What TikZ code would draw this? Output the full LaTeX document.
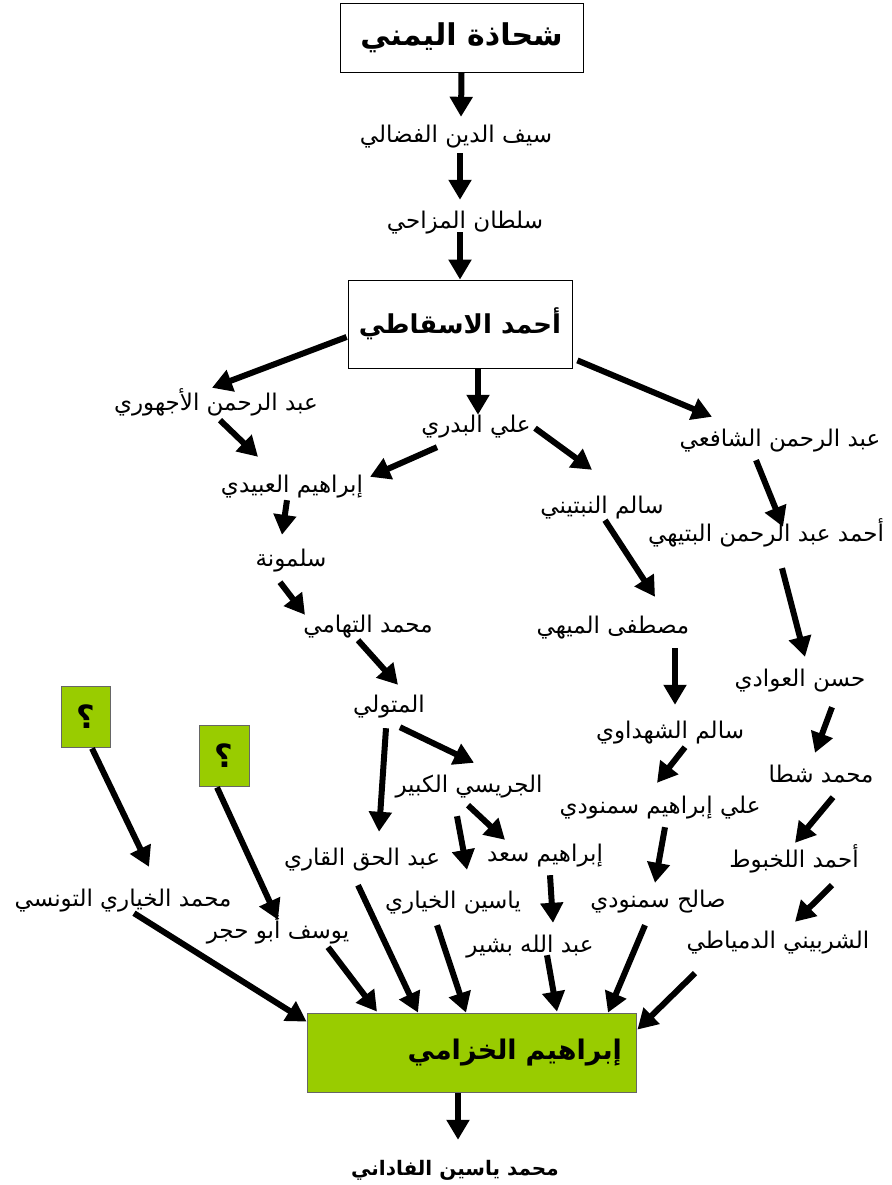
\documentclass[tikz,border=0pt]{standalone}
\usepackage{fontspec}
\newfontfamily\arabicfont[Script=Arabic]{DejaVu Sans}
\TeXXeTstate=1
\usetikzlibrary{arrows.meta}
\definecolor{leafgreen}{RGB}{153,204,0}

\begin{document}
\begin{tikzpicture}[x=1pt,y=-1pt]
\tikzset{
  sheikh/.style={inner sep=1pt,text height=15pt,text depth=5pt,font=\arabicfont\fontsize{23pt}{26pt}\selectfont},
  headbox/.style={draw=black,line width=0.8pt,inner sep=0pt,font=\arabicfont\bfseries\fontsize{30pt}{36pt}\selectfont},
  qbox/.style={draw=black!60,fill=leafgreen,line width=0.8pt,minimum width=49pt,minimum height=61pt,inner sep=0pt,font=\arabicfont\bfseries\fontsize{32pt}{36pt}\selectfont},
  chain/.style={draw=black,line width=6pt,-{Triangle[length=20pt,width=22pt]}}
}
\useasboundingbox[fill=white] (0,0) rectangle (891,1185);

% top of the line
\node[headbox,minimum width=243pt,minimum height=69pt] (yamani) at (461.5,37.5) {\beginR شحاذة اليمني\endR};
\node[sheikh] (fadali) at (456,138) {\beginR سيف الدين الفضالي\endR};
\node[sheikh] (mazahi) at (465,223) {\beginR سلطان المزاحي\endR};
\node[headbox,minimum width=224pt,minimum height=88pt,font=\arabicfont\bfseries\fontsize{26pt}{32pt}\selectfont] (asqati) at (460,324) {\beginR أحمد الاسقاطي\endR};

% students of al-Asqati
\node[sheikh] (ajhuri) at (216,405) {\beginR عبد الرحمن الأجهوري\endR};
\node[sheikh] (badri) at (476,427) {\beginR علي البدري\endR};
\node[sheikh] (shafii) at (780,441) {\beginR عبد الرحمن الشافعي\endR};
\node[sheikh] (ubaydi) at (292,487) {\beginR إبراهيم العبيدي\endR};
\node[sheikh] (nabtini) at (602,508) {\beginR سالم النبتيني\endR};
\node[sheikh] (batihi) at (766,536) {\beginR أحمد عبد الرحمن البتيهي\endR};
\node[sheikh] (salmuna) at (291,561) {\beginR سلمونة\endR};
\node[sheikh] (tuhami) at (368,627) {\beginR محمد التهامي\endR};
\node[sheikh] (mihi) at (613,628) {\beginR مصطفى الميهي\endR};
\node[sheikh] (awadi) at (800,681) {\beginR حسن العوادي\endR};
\node[sheikh] (mutawalli) at (389,707) {\beginR المتولي\endR};
\node[sheikh] (shahdawi) at (670,733) {\beginR سالم الشهداوي\endR};
\node[sheikh] (shatta) at (821,777) {\beginR محمد شطا\endR};
\node[sheikh] (jurisi) at (469,787) {\beginR الجريسي الكبير\endR};
\node[sheikh] (alisam) at (660,808) {\beginR علي إبراهيم سمنودي\endR};
\node[sheikh] (abdulhaqq) at (362,860) {\beginR عبد الحق القاري\endR};
\node[sheikh] (saad) at (545,856) {\beginR إبراهيم سعد\endR};
\node[sheikh] (lakhbut) at (794,862) {\beginR أحمد اللخبوط\endR};
\node[sheikh] (tunisi) at (123,901) {\beginR محمد الخياري التونسي\endR};
\node[sheikh] (khiyari) at (453,903) {\beginR ياسين الخياري\endR};
\node[sheikh] (salih) at (658,902) {\beginR صالح سمنودي\endR};
\node[sheikh] (yusuf) at (278,933) {\beginR يوسف أبو حجر\endR};
\node[sheikh] (bashir) at (530,947) {\beginR عبد الله بشير\endR};
\node[sheikh] (shirbini) at (778,943) {\beginR الشربيني الدمياطي\endR};

% unknown teachers
\node[qbox] (qleft) at (85.5,716.5) {\beginR ؟\endR};
\node[qbox,minimum width=50pt] (qright) at (224,755.5) {\beginR ؟\endR};

% bottom
\node[headbox,draw=black!60,fill=leafgreen,minimum width=329pt,minimum height=79pt,inner xsep=14pt,text width=301pt,align=right,font=\arabicfont\bfseries\fontsize{27pt}{32pt}\selectfont] (khuzami) at (471.5,1052.5) {\beginR إبراهيم الخزامي\endR};
\node[sheikh,font=\arabicfont\bfseries\fontsize{20pt}{24pt}\selectfont] (fadani) at (455,1170) {\beginR محمد ياسين الفاداني\endR};

% chain
\draw[chain] (yamani.south) -- ([shift={(5,-10)}]fadali.north);
\draw[chain] ([shift={(4,4)}]fadali.south) -- ([shift={(-5,-12)}]mazahi.north);
\draw[chain] ([shift={(-5,-2)}]mazahi.south) -- (asqati.north);
\draw[chain] ([shift={(-1,13)}]asqati.west) -- ([shift={(-4,-6)}]ajhuri.north);
\draw[chain] ([shift={(18,0)}]asqati.south) -- ([shift={(2,-1)}]badri.north);
\draw[chain] ([shift={(5,-8)}]asqati.south east) -- ([shift={(-68,-13)}]shafii.north);
\draw[chain] ([shift={(4,4)}]ajhuri.south) -- ([shift={(-34,-19)}]ubaydi.north);
\draw[chain] ([shift={(-39,9)}]badri.south) -- ([shift={(78,1)}]ubaydi.north);
\draw[chain] ([shift={(59,-10)}]badri.south) -- ([shift={(-10,-27)}]nabtini.north);
\draw[chain] ([shift={(-24,8)}]shafii.south) -- ([shift={(17,2)}]batihi.north);
\draw[chain] ([shift={(-5,2)}]ubaydi.south) -- ([shift={(-9,-15)}]salmuna.north);
\draw[chain] ([shift={(-11,10)}]salmuna.south) -- ([shift={(-63,-1)}]tuhami.north);
\draw[chain] ([shift={(-10,2)}]tuhami.south) -- ([shift={(9,-11)}]mutawalli.north);
\draw[chain] ([shift={(3,1)}]nabtini.south) -- ([shift={(42,-20)}]mihi.north);
\draw[chain] ([shift={(16,21)}]batihi.south) -- ([shift={(5,-13)}]awadi.north);
\draw[chain] ([shift={(62,9)}]mihi.south) -- ([shift={(5,-17)}]shahdawi.north);
\draw[chain] ([shift={(32,15)}]awadi.south) -- ([shift={(-6,-13)}]shatta.north);
\draw[chain] ([shift={(15,3)}]shahdawi.south) -- ([shift={(-3,-14)}]alisam.north);
\draw[chain] ([shift={(12,9)}]shatta.south) -- ([shift={(1,-8)}]lakhbut.north);
\draw[chain] ([shift={(5,8)}]alisam.south) -- ([shift={(-3,-8)}]salih.north);
\draw[chain] ([shift={(38,12)}]lakhbut.south) -- ([shift={(17,-10)}]shirbini.north);
\draw[chain] ([shift={(-3,10)}]mutawalli.south) -- ([shift={(17,-17)}]abdulhaqq.north);
\draw[chain] ([shift={(11,9)}]mutawalli.south) -- ([shift={(5,-13)}]jurisi.north);
\draw[chain] ([shift={(-12,18)}]jurisi.south) -- ([shift={(14,-22)}]khiyari.north);
\draw[chain] ([shift={(-1,7)}]jurisi.south) -- ([shift={(-40,-5)}]saad.north);
\draw[chain] ([shift={(5,8)}]saad.south) -- ([shift={(23,-13)}]bashir.north);
\draw[chain] ([shift={(6.5,1)}]qleft.south) -- ([shift={(26,-23)}]tunisi.north);
\draw[chain] ([shift={(-7,1)}]qright.south) -- ([shift={(0,-2)}]yusuf.north);

% into al-Khuzami
\draw[chain] ([shift={(11,1)}]tunisi.south) -- ([shift={(0,9)}]khuzami.north west);
\draw[chain] ([shift={(50,3)}]yusuf.south) -- ([shift={(-94.5,-1)}]khuzami.north);
\draw[chain] ([shift={(-4,14)}]abdulhaqq.south) -- ([shift={(-53.5,0)}]khuzami.north);
\draw[chain] ([shift={(-16,11)}]khiyari.south) -- ([shift={(-5.5,0)}]khuzami.north);
\draw[chain] ([shift={(17,-3)}]bashir.south) -- ([shift={(85.5,-1)}]khuzami.north);
\draw[chain] ([shift={(-13,12)}]salih.south) -- ([shift={(136.5,0)}]khuzami.north);
\draw[chain] ([shift={(-83,19)}]shirbini.south) -- ([shift={(1,17)}]khuzami.north east);
\draw[chain] ([shift={(-13.5,1)}]khuzami.south) -- ([shift={(3,-19)}]fadani.north);
\end{tikzpicture}
\end{document}
